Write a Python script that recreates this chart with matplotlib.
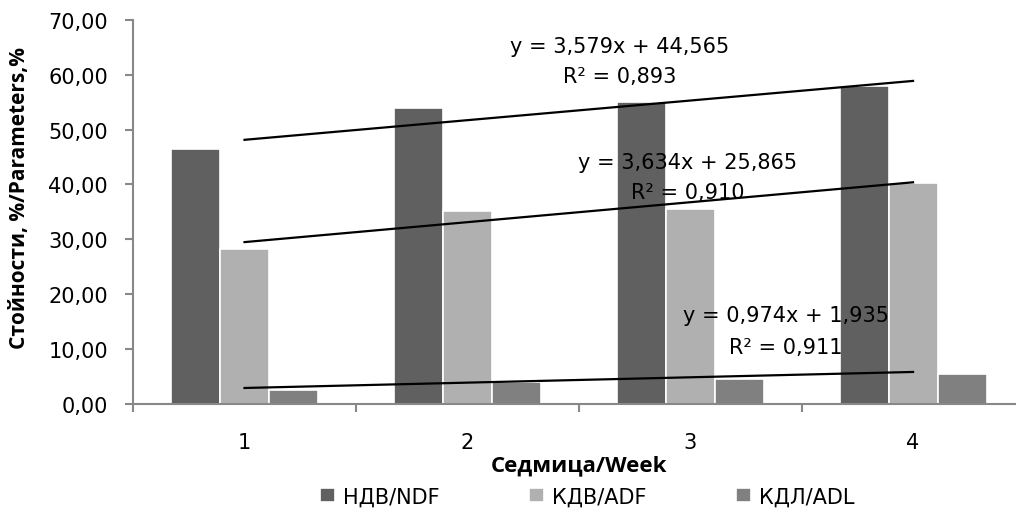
import matplotlib
matplotlib.use('Agg')
import matplotlib.pyplot as plt
import numpy as np

weeks = [1, 2, 3, 4]
ndf = [46.5, 53.9, 55.1, 57.9]
adf = [28.3, 35.2, 35.5, 40.2]
adl = [2.55, 3.95, 4.55, 5.5]
series_names = ['НДВ/NDF', 'КДВ/ADF', 'КДЛ/ADL']
series_colors = ['#606060', '#b0b0b0', '#808080']

# linear trend coefficients (slope, intercept) and R² per series
trend_slope = [3.579, 3.634, 0.974]
trend_icpt = [44.565, 25.865, 1.935]
trend_r2 = ['0,893', '0,910', '0,911']

yticks = [0, 10, 20, 30, 40, 50, 60, 70]

fig = plt.figure(figsize=(10.16, 5.10), dpi=100)
ax = fig.add_axes([0.131, 0.206, 0.869, 0.753])

x = np.array(weeks, dtype=float)
w = 0.22
for i, (vals, name, col) in enumerate(zip([ndf, adf, adl], series_names, series_colors)):
    ax.bar(x + (i - 1) * w, vals, width=w, color=col, edgecolor='white',
           linewidth=1.2, label=name, zorder=2)

# trend lines from week 1 to week 4
xt = np.array([weeks[0], weeks[-1]], dtype=float)
for m, b in zip(trend_slope, trend_icpt):
    ax.plot(xt, m * xt + b, color='black', linewidth=1.6, zorder=3)

eq_font = dict(family='DejaVu Sans', fontsize=15, ha='center', va='center', zorder=4)
label_pos = [(2.684, 65.2, 59.7), (2.99, 44.1, 38.6), (3.43, 16.2, 10.4)]
for (lx, ly1, ly2), m, b, r2 in zip(label_pos, trend_slope, trend_icpt, trend_r2):
    eq = 'y = {}x + {}'.format(f'{m:.3f}'.replace('.', ','), f'{b:.3f}'.replace('.', ','))
    ax.text(lx, ly1, eq, **eq_font)
    ax.text(lx, ly2, 'R² = ' + r2, **eq_font)

ax.set_ylim(0, 70)
ax.set_xlim(0.5, 4.462)
ax.set_yticks(yticks)
ax.set_yticklabels([f'{v:.2f}'.replace('.', ',') for v in yticks],
                   fontsize=15, family='DejaVu Sans')
ax.set_xticks(weeks)
ax.set_xticklabels([str(v) for v in weeks], fontsize=15, family='DejaVu Sans')
ax.set_xticks([0.5, 1.5, 2.5, 3.5], minor=True)
ax.tick_params(axis='x', which='major', length=0, pad=20)
ax.tick_params(axis='x', which='minor', length=6, color='#888888', width=1.5, direction='out')
ax.tick_params(axis='y', length=6, color='#888888', width=1.5, direction='out', pad=12)

for s in ['top', 'right']:
    ax.spines[s].set_visible(False)
for s in ['left', 'bottom']:
    ax.spines[s].set_color('#888888')
    ax.spines[s].set_linewidth(1.5)

ax.set_ylabel('Стойности, %/Parameters,%', fontsize=15, fontweight='bold',
              family='Open Sans')
ax.yaxis.set_label_coords(-0.117, 0.54)
ax.set_xlabel('Седмица/Week', fontsize=16, fontweight='bold', family='Open Sans')
ax.xaxis.set_label_coords(0.505, -0.132)

fig.legend(loc='center', bbox_to_anchor=(0.578, 0.025), ncol=3, frameon=False,
           prop={'family': 'DejaVu Sans', 'size': 15}, handlelength=0.7,
           handleheight=0.7, columnspacing=4.3, handletextpad=0.4)

fig.savefig('out.png', dpi=100)
